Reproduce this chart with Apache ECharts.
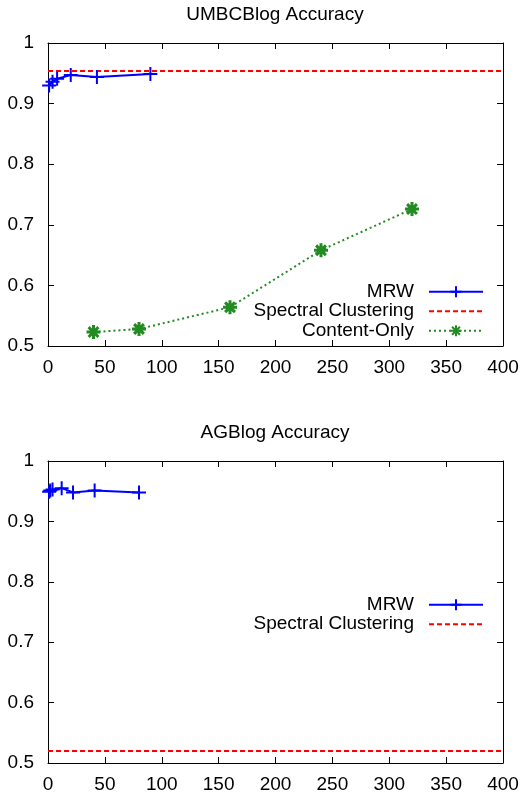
<!DOCTYPE html>
<html>
<head>
<meta charset="utf-8">
<script src="https://cdn.jsdelivr.net/npm/echarts@6/dist/echarts.min.js"></script>
<style>
  html, body { margin: 0; padding: 0; background: #fff; }
  #chart { width: 526px; height: 797px; }
</style>
</head>
<body>
<div id="chart"></div>
<script>
// top panel: UMBCBlog
const umbcMrw = [[1, 0.930], [4, 0.936], [8, 0.941], [20, 0.947], [43, 0.944], [90, 0.949]]
const umbcSpectral = [[0, 0.954], [400, 0.954]]
const umbcContent = [[40, 0.523], [80, 0.528], [160, 0.564], [240, 0.658], [320, 0.726]]
// bottom panel: AGBlog
const agMrw = [[1, 0.949], [2, 0.951], [4, 0.953], [12, 0.955], [22, 0.948], [41, 0.951], [80, 0.948]]
const agSpectral = [[0, 0.52], [400, 0.52]]

const titles = ['UMBCBlog Accuracy', 'AGBlog Accuracy']
const xTicks = { min: 0, max: 400, interval: 50 }
const yTicks = { min: 0.5, max: 1, interval: 0.1 }

const font = 'Liberation Sans, Arial, sans-serif'
const fs = 19
const crossPath = 'path://M0,10L20,10M10,0L10,20'
const starPath = 'path://M0,10L20,10M10,0L10,20M3,3L17,17M17,3L3,17'

const grids = [
  { left: 48, right: 23, top: 43, height: 303 },
  { left: 48, right: 23, top: 461, height: 302 }
]

function xAx(gi, pos) {
  return {
    type: 'value', gridIndex: gi, position: pos, ...xTicks,
    axisLine: { show: true, onZero: false, lineStyle: { color: '#000', width: 1 } },
    axisTick: { show: true, inside: true, length: 6, lineStyle: { color: '#000' } },
    axisLabel: { show: pos === 'bottom', color: '#000', fontSize: fs, fontFamily: font, margin: 12 },
    splitLine: { show: false }
  }
}
function yAx(gi, pos) {
  return {
    type: 'value', gridIndex: gi, position: pos, ...yTicks,
    axisLine: { show: true, onZero: false, lineStyle: { color: '#000', width: 1 } },
    axisTick: { show: true, inside: true, length: 6, lineStyle: { color: '#000' } },
    axisLabel: {
      show: pos === 'left', color: '#000', fontSize: fs, fontFamily: font, margin: 14,
      formatter: v => (Math.round(v * 10) / 10).toString()
    },
    splitLine: { show: false }
  }
}

const mrwStyle = {
  type: 'line', symbol: crossPath, symbolSize: 14,
  lineStyle: { color: '#0000ff', width: 2 },
  itemStyle: { color: 'none', borderColor: '#0000ff', borderWidth: 2 },
  color: '#0000ff'
}
const spectralStyle = {
  type: 'line', symbol: 'none',
  lineStyle: { color: '#ff0000', width: 2, type: [5, 3] },
  color: '#ff0000'
}

const legendBase = {
  orient: 'vertical', right: 42, align: 'right', padding: 0,
  itemWidth: 54, itemHeight: 14, itemGap: 0,
  textStyle: { color: '#000', fontSize: fs, lineHeight: 19.5, fontFamily: font, padding: [0, 10, 0, 0] }
}

const option = {
  animation: false,
  title: titles.map((t, i) => ({
    text: t, left: 275, textAlign: 'center', top: grids[i].top - 38, padding: 0,
    textStyle: { color: '#000', fontSize: fs, fontWeight: 'normal', fontFamily: font }
  })),
  legend: [
    {
      ...legendBase, top: 282,
      data: ['MRW', { name: 'Spectral Clustering', itemStyle: { opacity: 0 } }, 'Content-Only']
    },
    {
      ...legendBase, top: 595,
      data: ['MRW ', { name: 'Spectral Clustering ', itemStyle: { opacity: 0 } }],
      formatter: n => n.trim()
    }
  ],
  grid: grids,
  xAxis: [xAx(0, 'bottom'), xAx(0, 'top'), xAx(1, 'bottom'), xAx(1, 'top')],
  yAxis: [yAx(0, 'left'), yAx(0, 'right'), yAx(1, 'left'), yAx(1, 'right')],
  series: [
    { name: 'MRW', ...mrwStyle, xAxisIndex: 0, yAxisIndex: 0, data: umbcMrw },
    { name: 'Spectral Clustering', ...spectralStyle, xAxisIndex: 0, yAxisIndex: 0, data: umbcSpectral },
    {
      name: 'Content-Only', type: 'line', symbol: starPath, symbolSize: 14,
      xAxisIndex: 0, yAxisIndex: 0, data: umbcContent,
      lineStyle: { color: '#228b22', width: 2, type: [2, 3] },
      itemStyle: { color: 'none', borderColor: '#228b22', borderWidth: 3 },
      color: '#228b22'
    },
    { name: 'MRW ', ...mrwStyle, xAxisIndex: 2, yAxisIndex: 2, data: agMrw },
    { name: 'Spectral Clustering ', ...spectralStyle, xAxisIndex: 2, yAxisIndex: 2, data: agSpectral }
  ]
}

const chart = echarts.init(document.getElementById('chart'))
chart.setOption(option)
</script>
</body>
</html>
